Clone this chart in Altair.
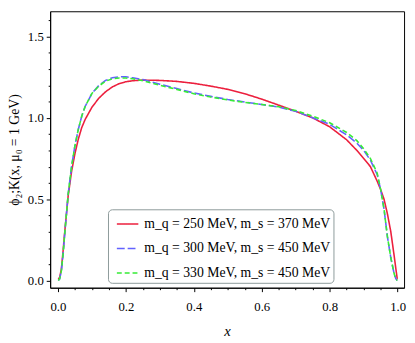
import altair as alt
import pandas as pd

# ---- data ----
x_vals = [0.001, 0.005, 0.01, 0.015, 0.02, 0.03, 0.04, 0.05, 0.06, 0.07, 0.08,
          0.10, 0.12, 0.14, 0.16, 0.18, 0.20, 0.22, 0.25, 0.30, 0.35, 0.40,
          0.45, 0.50, 0.55, 0.60, 0.65, 0.70, 0.75, 0.80, 0.85, 0.88, 0.90,
          0.92, 0.94, 0.95, 0.96, 0.97, 0.98, 0.99, 0.995, 0.999]

red_vals = [0.01, 0.02, 0.07, 0.18, 0.30, 0.52, 0.67, 0.78, 0.87, 0.94, 0.99,
            1.065, 1.12, 1.16, 1.19, 1.21, 1.222, 1.228, 1.232, 1.23, 1.224, 1.212,
            1.195, 1.175, 1.148, 1.115, 1.078, 1.04, 1.0, 0.945, 0.865, 0.80, 0.75,
            0.70, 0.61, 0.56, 0.50, 0.41, 0.30, 0.15, 0.07, 0.01]

blue_vals = [0.0, 0.01, 0.06, 0.16, 0.29, 0.53, 0.70, 0.83, 0.93, 1.01, 1.07,
             1.15, 1.198, 1.23, 1.246, 1.252, 1.252, 1.246, 1.235, 1.207, 1.18, 1.153,
             1.132, 1.113, 1.097, 1.082, 1.066, 1.04, 1.0, 0.96, 0.895, 0.845, 0.80,
             0.74, 0.65, 0.56, 0.44, 0.27, 0.14, 0.04, 0.01, 0.0]

green_vals = [0.0, 0.01, 0.06, 0.16, 0.29, 0.53, 0.70, 0.83, 0.93, 1.01, 1.07,
              1.15, 1.195, 1.225, 1.24, 1.245, 1.245, 1.24, 1.228, 1.20, 1.175, 1.148,
              1.128, 1.11, 1.095, 1.082, 1.068, 1.045, 1.01, 0.97, 0.91, 0.86, 0.81,
              0.75, 0.66, 0.56, 0.44, 0.27, 0.14, 0.04, 0.01, 0.0]

labels = ["m_q = 250 MeV, m_s = 370 MeV",
          "m_q = 300 MeV, m_s = 450 MeV",
          "m_q = 330 MeV, m_s = 450 MeV"]
colors = ["#ec1f3d", "#6262ff", "#36ec36"]
dashes = [[1, 0], [8, 3], [5, 3]]

x_minor = [round(i * 0.05, 2) for i in range(21)]
y_minor = [round(i * 0.1, 1) for i in range(17)]

xmin, xmax = -0.023, 1.019
ymin, ymax = -0.044, 1.655

rows = []
for lab, ys in zip(labels, [red_vals, blue_vals, green_vals]):
    for xv, yv in zip(x_vals, ys):
        rows.append({"x": xv, "y": yv, "series": lab})
df = pd.DataFrame(rows)

FONT = "Liberation Serif"

x_major_test = "abs(datum.value*5 - round(datum.value*5)) < 0.001"
y_major_test = "abs(datum.value*2 - round(datum.value*2)) < 0.001"

x_axis = alt.Axis(
    values=x_minor,
    labelExpr=f"{x_major_test} ? format(datum.value, '.1f') : ''",
    tickSize={"condition": {"test": x_major_test, "value": 4}, "value": 2},
    grid=False, title="x", titleFontStyle="italic", titleFontWeight="normal",
    titleFont=FONT, titleFontSize=15, titlePadding=11,
    labelFont=FONT, labelFontSize=13, labelPadding=9, labelFlush=False,
    domainColor="black", tickColor="black", labelColor="black", titleColor="black",
)
y_axis = alt.Axis(
    values=y_minor,
    labelExpr=f"{y_major_test} ? format(datum.value, '.1f') : ''",
    tickSize={"condition": {"test": y_major_test, "value": 4}, "value": 2},
    grid=False, title="ϕ₂;K(x, μ₀ = 1 GeV)", titleFontWeight="normal",
    titleFont=FONT, titleFontSize=14, titlePadding=6,
    labelFont=FONT, labelFontSize=13, labelPadding=3,
    domainColor="black", tickColor="black", labelColor="black", titleColor="black",
)

base = alt.Chart(df).mark_line(strokeWidth=1.6, clip=True).encode(
    x=alt.X("x:Q", scale=alt.Scale(domain=[xmin, xmax], nice=False, zero=False), axis=x_axis),
    y=alt.Y("y:Q", scale=alt.Scale(domain=[ymin, ymax], nice=False, zero=False), axis=y_axis),
    color=alt.Color("series:N", scale=alt.Scale(domain=labels, range=colors), title=None),
    strokeDash=alt.StrokeDash("series:N", scale=alt.Scale(domain=labels, range=dashes), title=None),
)

layers = [base.transform_filter(alt.datum.series == lab) for lab in labels]

chart = alt.layer(*layers).properties(
    width=361, height=282,
    autosize=alt.AutoSizeParams(type="none"),
    padding={"left": 43, "top": 0, "right": 3, "bottom": 50},
).configure_view(
    stroke="black", strokeWidth=1
).configure_legend(
    orient="none", legendX=59, legendY=202,
    padding=3, cornerRadius=4, strokeColor="#8c9a9a", fillColor="white",
    labelFont=FONT, labelFontSize=14, labelColor="black", labelLimit=400,
    symbolType="stroke", symbolSize=480, symbolStrokeWidth=1.6,
    symbolOffset=5, rowPadding=6, labelOffset=5,
)

chart.save("out.html", embed_options={"renderer": "svg", "actions": False})
